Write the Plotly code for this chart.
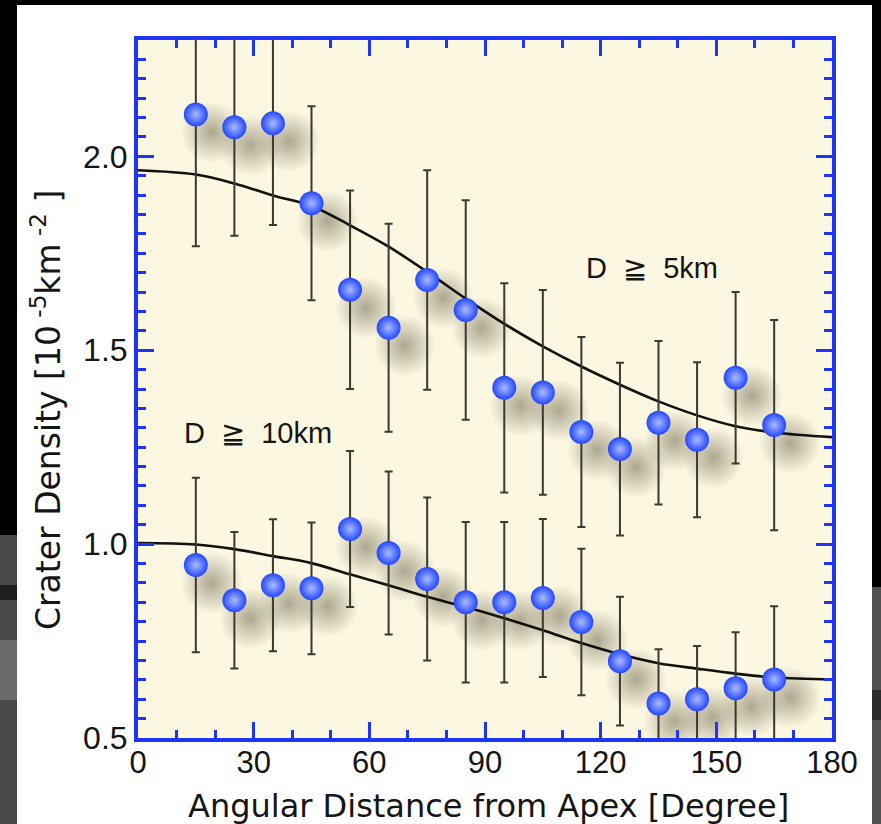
import plotly.graph_objects as go

# ---------------- data ----------------
angle = [15, 25, 35, 45, 55, 65, 75, 85, 95, 105, 115, 125, 135, 145, 155, 165]

dens_5km = [2.108, 2.075, 2.085, 1.879, 1.656, 1.558, 1.681, 1.604,
            1.403, 1.391, 1.289, 1.245, 1.313, 1.269, 1.429, 1.307]
err_5km = [0.340, 0.280, 0.262, 0.250, 0.256, 0.268, 0.283, 0.283,
           0.270, 0.264, 0.245, 0.223, 0.211, 0.200, 0.221, 0.271]

dens_10km = [0.946, 0.855, 0.894, 0.886, 1.039, 0.977, 0.910, 0.850,
             0.850, 0.861, 0.799, 0.698, 0.589, 0.600, 0.628, 0.651]
err_10km = [0.225, 0.176, 0.170, 0.170, 0.201, 0.210, 0.210, 0.207,
            0.207, 0.204, 0.189, 0.166, 0.140, 0.137, 0.145, 0.189]

fit_angle = [0, 15, 25, 35, 45, 55, 65, 75, 85, 95, 105, 115, 125, 135, 145, 155, 165, 180]
fit_5km = [1.964, 1.953, 1.930, 1.899, 1.872, 1.822, 1.767, 1.702, 1.633,
           1.568, 1.510, 1.458, 1.411, 1.368, 1.332, 1.304, 1.288, 1.276]
fit_10km = [1.003, 0.999, 0.987, 0.969, 0.951, 0.922, 0.894, 0.864, 0.838,
            0.809, 0.778, 0.745, 0.716, 0.693, 0.679, 0.666, 0.656, 0.651]

x_ticks = [0, 30, 60, 90, 120, 150, 180]
y_ticks = [0.5, 1.0, 1.5, 2.0]
x_range = [0, 180]
y_range = [0.5, 2.3]

label_5km = "D\u00a0\u00a0\u2267\u00a0\u00a05km"
label_10km = "D\u00a0\u00a0\u2267\u00a0\u00a010km"
x_title = "Angular Distance from Apex [Degree]"
y_title = "Crater Density [10<sup> -5</sup>km<sup> -2</sup> ]"

# ---------------- layout geometry (pixels) ----------------
W, H = 881, 824
PL, PR, PT, PB = 138, 832, 40, 738          # plot area edges
SH_DX, SH_DY = 16, 18                       # shadow offset (px)
sx = (PR - PL) / (x_range[1] - x_range[0])
sy = (PB - PT) / (y_range[1] - y_range[0])

BLUE = "#1f35f5"
CREAM = "#fcf7e0"
TXT = "#151515"
FONT = "Liberation Sans, Arial, Helvetica, sans-serif"
TFONT = "DejaVu Sans, Liberation Sans, sans-serif"

fig = go.Figure()

# shadows (on a hidden, pixel-shifted copy of the axes)
for ys in (dens_5km, dens_10km):
    fig.add_trace(go.Scatter(
        x=angle, y=ys, mode="markers", xaxis="x", yaxis="y",
        marker=dict(size=62, color="rgba(95,88,65,0)",
                    gradient=dict(type="radial", color="rgba(95,88,65,0.5)"),
                    line=dict(width=0)),
        hoverinfo="skip", showlegend=False))

# fitted curves
for ys in (fit_5km, fit_10km):
    fig.add_trace(go.Scatter(
        x=fit_angle, y=ys, mode="lines", xaxis="x2", yaxis="y2",
        line=dict(color="#111111", width=2.6, shape="spline", smoothing=1.0),
        showlegend=False))

# data points with error bars
for ys, es in ((dens_5km, err_5km), (dens_10km, err_10km)):
    fig.add_trace(go.Scatter(
        x=angle, y=ys, mode="markers", xaxis="x2", yaxis="y2",
        error_y=dict(type="data", array=es, visible=True,
                     color="#3a3a32", thickness=2, width=4),
        marker=dict(size=24, color="#2447ff",
                    gradient=dict(type="radial", color="#a9bcff"),
                    line=dict(width=0)),
        showlegend=False))

axis_common = dict(
    showline=True, linecolor=BLUE, linewidth=4, mirror="ticks",
    ticks="inside", ticklen=16, tickwidth=3, tickcolor=BLUE,
    showgrid=False, zeroline=False, automargin=False,
    fixedrange=True,
)

fig.update_layout(
    width=W, height=H,
    margin=dict(l=0, r=0, t=0, b=0, pad=0),
    paper_bgcolor="black",
    plot_bgcolor="rgba(0,0,0,0)",
    showlegend=False,
    xaxis=dict(domain=[(PL + SH_DX) / W, PR / W],
               range=[x_range[0], x_range[1] - SH_DX / sx],
               visible=False, anchor="y", fixedrange=True, automargin=False),
    yaxis=dict(domain=[(H - PB) / H, (H - PT - SH_DY) / H],
               range=[y_range[0] + SH_DY / sy, y_range[1]],
               visible=False, anchor="x", fixedrange=True, automargin=False),
    xaxis2=dict(domain=[PL / W, PR / W], range=x_range, anchor="y2",
                tickmode="array", tickvals=x_ticks,
                minor=dict(dtick=10, tick0=0, ticks="inside", ticklen=8,
                           tickwidth=3, tickcolor=BLUE),
                ticklabelstandoff=-6,
                tickfont=dict(family=FONT, size=31, color=TXT),
                **axis_common),
    yaxis2=dict(domain=[(H - PB) / H, (H - PT) / H], range=y_range, anchor="x2",
                tickmode="array", tickvals=y_ticks, tickformat=".1f",
                minor=dict(dtick=0.05, tick0=0.5, ticks="inside", ticklen=8,
                           tickwidth=3, tickcolor=BLUE),
                ticklabelstandoff=0,
                tickfont=dict(family=FONT, size=32, color=TXT),
                **axis_common),
    shapes=[
        # white panel
        dict(type="rect", xref="paper", yref="paper", layer="below",
             x0=17 / W, x1=872 / W, y0=0, y1=1 - 5 / H,
             fillcolor="white", line=dict(width=0)),
        # lunar image strips at bottom sides
        dict(type="rect", xref="paper", yref="paper", layer="below",
             x0=0, x1=17 / W, y0=0, y1=1 - 535 / H,
             fillcolor="#4a4a4a", line=dict(width=0)),
        dict(type="rect", xref="paper", yref="paper", layer="below",
             x0=0, x1=17 / W, y0=1 - 600 / H, y1=1 - 585 / H,
             fillcolor="#1e1e1e", line=dict(width=0)),
        dict(type="rect", xref="paper", yref="paper", layer="below",
             x0=0, x1=17 / W, y0=1 - 700 / H, y1=1 - 640 / H,
             fillcolor="#6a6a6a", line=dict(width=0)),
        dict(type="rect", xref="paper", yref="paper", layer="below",
             x0=872 / W, x1=1, y0=0, y1=1 - 587 / H,
             fillcolor="#505050", line=dict(width=0)),
        dict(type="rect", xref="paper", yref="paper", layer="below",
             x0=872 / W, x1=1, y0=1 - 720 / H, y1=1 - 690 / H,
             fillcolor="#2a2a2a", line=dict(width=0)),
        # cream plot background
        dict(type="rect", xref="paper", yref="paper", layer="below",
             x0=PL / W, x1=PR / W, y0=(H - PB) / H, y1=(H - PT) / H,
             fillcolor=CREAM, line=dict(width=0)),
    ],
    annotations=[
        dict(text=label_5km, x=133.3, y=1.712, xref="x2", yref="y2",
             xanchor="center", yanchor="middle", showarrow=False,
             font=dict(family=FONT, size=29, color=TXT)),
        dict(text=label_10km, x=31.1, y=1.2865, xref="x2", yref="y2",
             xanchor="center", yanchor="middle", showarrow=False,
             font=dict(family=FONT, size=29, color=TXT)),
        dict(text=x_title, x=488 / W, y=1 - 806 / H, xref="paper", yref="paper",
             xanchor="center", yanchor="middle", showarrow=False,
             font=dict(family=TFONT, size=32, color=TXT)),
        dict(text=y_title, x=46 / W, y=1 - 410 / H, xref="paper", yref="paper",
             xanchor="center", yanchor="middle", textangle=-90, showarrow=False,
             font=dict(family=TFONT, size=33, color=TXT)),
    ],
)

fig.write_html(
    "out.html",
    config={"displayModeBar": False},
    post_script=("document.documentElement.style.margin='0';"
                 "document.body.style.margin='0';"
                 "document.body.style.overflow='hidden';"
                 "document.documentElement.style.overflow='hidden';"
                 "document.body.style.background='black';"),
)
